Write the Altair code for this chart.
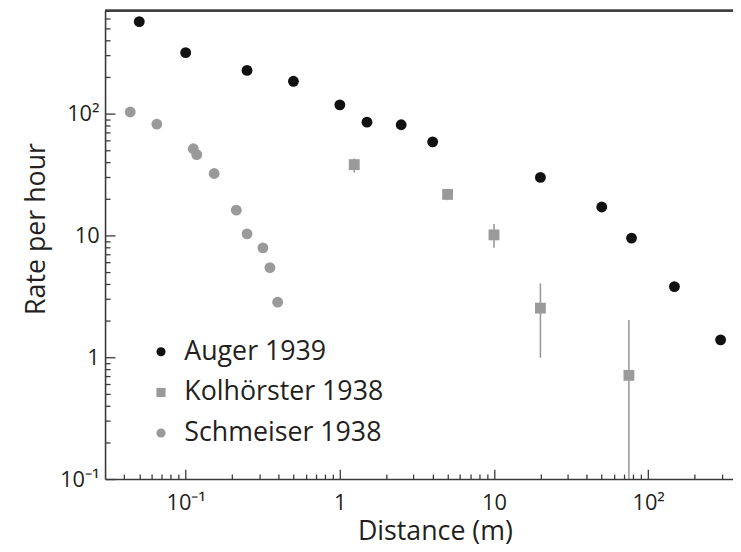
import altair as alt
import pandas as pd

# ---- data ----
auger_x = [0.05, 0.1, 0.25, 0.5, 1.0, 1.5, 2.5, 4.0, 20.0, 50.0, 78.0, 148.0, 295.0]
auger_y = [568, 316, 226, 184, 118, 85, 81, 58.6, 29.9, 17.1, 9.5, 3.8, 1.39]

kol_x = [1.24, 5.0, 10.0, 20.0, 75.0]
kol_y = [38.1, 21.7, 10.1, 2.53, 0.71]
kol_lo = [32.8, 19.4, 7.9, 0.99, 0.1]
kol_hi = [42.7, 23.5, 12.4, 4.03, 2.02]

sch_x = [0.0437, 0.065, 0.112, 0.118, 0.153, 0.213, 0.25, 0.317, 0.352, 0.395]
sch_y = [103, 82, 51.4, 46, 32.2, 16.1, 10.3, 7.9, 5.44, 2.83]

series_names = ["Auger 1939", "Kolhörster 1938", "Schmeiser 1938"]
series_colors = ["#111111", "#9a9a9a", "#9a9a9a"]
series_shapes = ["circle", "square", "circle"]

x_major = [0.1, 1, 10, 100]
x_minor = [0.04, 0.05, 0.06, 0.07, 0.08, 0.09,
           0.2, 0.3, 0.4, 0.5, 0.6, 0.7, 0.8, 0.9,
           2, 3, 4, 5, 6, 7, 8, 9,
           20, 30, 40, 50, 60, 70, 80, 90,
           200, 300]
y_major = [0.1, 1, 10, 100]
y_minor = [0.2, 0.3, 0.4, 0.5, 0.6, 0.7, 0.8, 0.9,
           2, 3, 4, 5, 6, 7, 8, 9,
           20, 30, 40, 50, 60, 70, 80, 90,
           200, 300, 400, 500, 600, 700]

x_domain = [0.03, 355]
y_domain = [0.1, 700]

FONT = "Open Sans"
INK = "#231f20"
AX = "#3a3a3a"

pts = pd.DataFrame(
    [{"x": a, "y": b, "s": series_names[0]} for a, b in zip(auger_x, auger_y)]
    + [{"x": a, "y": b, "s": series_names[1]} for a, b in zip(kol_x, kol_y)]
    + [{"x": a, "y": b, "s": series_names[2]} for a, b in zip(sch_x, sch_y)]
)
err = pd.DataFrame({"x": kol_x, "lo": kol_lo, "hi": kol_hi})
xmaj = pd.DataFrame({"tx": x_major})

xs = alt.Scale(type="log", domain=x_domain, nice=False)
ys = alt.Scale(type="log", domain=y_domain, nice=False)

is_major = "(datum.value == 0.1 || datum.value == 1 || datum.value == 10 || datum.value == 100)"
label_expr = ("datum.value == 100 ? '10²' : (datum.value == 0.1 ? '10⁻¹' : "
              "(datum.value == 1 ? '1' : (datum.value == 10 ? '10' : '')))")
# negative length (as an expression) turns the ticks inward, as in the reference
tick_size = {"expr": is_major + " ? -10 : -5"}

x_main = alt.Axis(values=x_major + x_minor, labelExpr=label_expr, ticks=True,
                  tickSize=tick_size, tickColor=AX, tickWidth=1.3, grid=False,
                  domainColor=AX, domainWidth=1.6, labelFont=FONT, labelFontSize=22,
                  labelColor=INK, labelPadding=24, labelOverlap=False, title="Distance (m)",
                  titleFont=FONT, titleFontSize=27, titleFontWeight="normal",
                  titleColor=INK, titleX=333, titleY=61, titleBaseline="alphabetic",
                  orient="bottom")
y_main = alt.Axis(values=y_major + y_minor, labelExpr=label_expr, ticks=True,
                  tickSize=tick_size, tickColor=AX, tickWidth=1.3, grid=False,
                  domainColor=AX, domainWidth=1.6, labelFont=FONT, labelFontSize=22,
                  labelColor=INK, labelPadding=16, labelOverlap=False, title="Rate per hour",
                  titleFont=FONT, titleFontSize=27, titleFontWeight="normal",
                  titleColor=INK, titleX=-61, titleY=220, titleBaseline="alphabetic",
                  orient="left")

errbars = alt.Chart(err).mark_rule(color="#9a9a9a", strokeWidth=1.6, clip=True).encode(
    x=alt.X("x:Q", scale=xs, axis=x_main),
    y=alt.Y("lo:Q", scale=ys, axis=y_main),
    y2="hi:Q",
)

points = alt.Chart(pts).mark_point(filled=True, opacity=1, size=120).encode(
    x=alt.X("x:Q"), y=alt.Y("y:Q"),
    color=alt.Color("s:N", scale=alt.Scale(domain=series_names, range=series_colors),
                    legend=alt.Legend(orient="none", legendX=43, legendY=331, title=None,
                                      labelFont=FONT, labelFontSize=27, labelColor=INK,
                                      labelLimit=400,
                                      symbolSize=85, rowPadding=13, labelOffset=10,
                                      padding=0, symbolStrokeWidth=0)),
    shape=alt.Shape("s:N", scale=alt.Scale(domain=series_names, range=series_shapes),
                    legend=None),
)

# top frame line
topline = alt.Chart(xmaj).mark_rule(color=AX, strokeWidth=1.6).encode(
    x=alt.XDatum(x_domain[0]), x2=alt.X2Datum(x_domain[1]), y=alt.YDatum(y_domain[1]))

chart = alt.layer(errbars, topline, points).properties(
    width=634, height=473,
    autosize=alt.AutoSizeParams(type="none"),
    padding={"left": 98, "top": 0, "right": 0, "bottom": 70},
).configure_view(stroke=None)

chart.save("out.html", embed_options={"renderer": "svg", "actions": False})
